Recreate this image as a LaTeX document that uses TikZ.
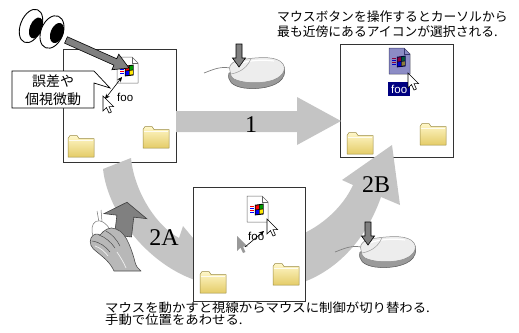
\documentclass[tikz,border=0pt]{standalone}
\usepackage{fontspec}
\setmainfont{Liberation Serif}
\newfontfamily\jpfont{Noto Sans CJK JP}
\newfontfamily\jpwide{Noto Sans CJK JP}[FakeStretch=1.07]
\newfontfamily\uifont{Liberation Sans}
\usetikzlibrary{arrows.meta}

\definecolor{band}{HTML}{C4C4C4}
\definecolor{blockgray}{HTML}{808080}
\definecolor{folderlight}{HTML}{FFF7C8}
\definecolor{folderdark}{HTML}{E4CC68}
\definecolor{folderline}{HTML}{9A8A40}
\definecolor{selnavy}{HTML}{000080}
\definecolor{mousetop}{HTML}{EDEDED}
\definecolor{mouseside}{HTML}{9A9A9A}

\tikzset{
  panel/.style={draw=black!80, line width=0.8pt, fill=white, inner sep=0pt, anchor=north west},
  blockarrow/.style={fill=blockgray, draw=black, line width=0.6pt, line join=miter},
  bandfill/.style={fill=band},
  jptext/.style={font=\jpfont\fontsize{12.8}{15}\selectfont, inner sep=0pt, anchor=base west},
  foolabel/.style={font=\uifont\fontsize{11.5}{12}\selectfont, inner sep=0pt, anchor=base west},
  steplabel/.style={font=\fontsize{24}{24}\selectfont, inner sep=0pt, anchor=base},
  aim/.style={line width=0.6pt, -{Stealth[length=5pt,width=4.5pt]}},
  twoway/.style={line width=0.6pt, {Stealth[length=5pt,width=4.5pt]}-{Stealth[length=5pt,width=4.5pt]}},
  % thick outlined arrow: length, shaft width, head width, head length
  pics/blockarr/.style n args={4}{code={
    \path[blockarrow] (0,{-#2/2}) -- ({#1-#4},{-#2/2}) -- ({#1-#4},{-#3/2}) -- (#1,0)
      -- ({#1-#4},{#3/2}) -- ({#1-#4},{#2/2}) -- (0,{#2/2}) -- cycle;
  }},
  % document icon with the windows flag
  pics/doc/.style={code={
    \fill[white] (0,0) -- (15,0) -- (21,6) -- (21,26) -- (0,26) -- cycle;
    \draw[black!60, line width=0.5pt, line join=round] (0,0) -- (15,0) -- (21,6) -- (21,26) -- (0,26) -- cycle;
    \draw[black!60, line width=0.5pt] (15,0) -- (15,6) -- (21,6);
    \fill[black] (7.8,8.8) -- (16.6,7.6) -- (16.6,18.4) -- (7.8,19.4) -- cycle;
    \fill[red] (8.7,9.7) -- (11.9,9.2) -- (11.9,13.1) -- (8.7,13.6) -- cycle;
    \fill[green!60!black] (12.7,9.1) -- (15.8,8.6) -- (15.8,12.5) -- (12.7,13.0) -- cycle;
    \fill[blue] (8.7,14.4) -- (11.9,13.9) -- (11.9,17.9) -- (8.7,18.4) -- cycle;
    \fill[yellow!90!orange] (12.7,13.8) -- (15.8,13.3) -- (15.8,17.3) -- (12.7,17.8) -- cycle;
    \draw[red, line width=0.8pt] (3,10.8) -- (7.3,10.8) (3,14.6) -- (7.3,14.6);
    \draw[blue, line width=0.8pt] (3,12.7) -- (7.3,12.7) (3,16.5) -- (7.3,16.5);
  }},
  % yellow folder
  pics/folder/.style={code={
    \shadedraw[top color=folderlight, bottom color=folderdark, draw=folderline, line width=0.5pt, line join=round]
      (0,3.5) -- (2,0.5) -- (9,0.5) -- (11,3.5) -- (26,3.5) -- (26,22) -- (0,22) -- cycle;
    \draw[white, line width=0.6pt, opacity=0.8] (0.8,5) -- (25.2,5);
  }},
  pics/cursor/.style={code={
    \draw[fill=white, line width=0.6pt, line join=miter]
      (0,0) -- (0,15) -- (3.5,11.6) -- (6,17) -- (8.4,16) -- (6,10.6) -- (10.6,10.6) -- cycle;
  }},
  pics/ghostcursor/.style={code={
    \fill[black!40]
      (0,0) -- (0,15) -- (3.5,11.6) -- (6,17) -- (8.4,16) -- (6,10.6) -- (10.6,10.6) -- cycle;
  }},
  % computer mouse seen from above (y grows downward), cable to the left
  pics/mousebody/.style={code={
    \draw[black!50, line width=0.7pt] (-52,2) .. controls (-44,-1) and (-36,-5) .. (-26,-3);
    % lower side of the shell
    \filldraw[fill=mouseside, draw=black!65, line width=0.5pt, line join=round]
      (-27,2) .. controls (-29,10) and (-24,15) .. (-12,17)
      .. controls (2,19) and (20,16) .. (26,8)
      .. controls (30,3) and (29,-4) .. (27,-6) -- cycle;
    % top face
    \filldraw[fill=mousetop, draw=black!45, line width=0.5pt, line join=round]
      (-26,0) .. controls (-28,-7) and (-22,-11) .. (-10,-12)
      .. controls (4,-14) and (22,-15) .. (27,-7)
      .. controls (31,-1) and (26,7) .. (14,10)
      .. controls (2,13) and (-14,12) .. (-22,8)
      .. controls (-25,6) and (-26,3) .. (-26,0) -- cycle;
    \draw[white, line width=1.2pt] (-20,-6) .. controls (-12,-10) and (5,-12) .. (18,-10);
    \draw[black!40, line width=0.5pt] (-5,-12.5) .. controls (-8,-5) and (-14,1) .. (-25,3);
  }},
}

\begin{document}
\begin{tikzpicture}[x=1pt,y=-1pt]
\useasboundingbox (0,0) rectangle (519,332);

% the two outer panels
\node[panel, minimum width=113pt, minimum height=113pt] (leftpanel) at (63,49) {};
\node[panel, minimum width=113pt, minimum height=113pt] (rightpanel) at (340,44) {};

% step 1: straight arrow
\fill[bandfill] (176,111) -- (297,111) -- (297,97) -- (341,121) -- (297,145) -- (297,132) -- (176,132) -- cycle;

% step 2A: curved band down into the middle panel
\fill[bandfill] (103,169) .. controls (108,215) and (150,266) .. (198,281)
  -- (201,292) -- (218,268) -- (183,226) -- (179,238)
  .. controls (155,225) and (134,190) .. (131,158) -- cycle;

% step 2B: curved arrow up to the right panel
\fill[bandfill] (298,236) .. controls (322,226) and (343,207) .. (353,185)
  -- (342,180) -- (392,145) -- (400,205) -- (381,197)
  .. controls (366,240) and (336,272) .. (298,284) -- cycle;

% middle panel
\node[panel, minimum width=112pt, minimum height=114pt] (midpanel) at (193,187) {};

% ---- left panel contents
\pic at (117,57) {doc};
\pic at (68,135) {folder};
\pic at (143,126) {folder};
\pic at (103,96) {cursor};
\node[foolabel] (fooleft) at (117,101) {foo};
\coordinate (errIcon) at (122,77);
\coordinate (errCursor) at (105,99);
\draw[twoway] (errIcon) -- (errCursor);

% ---- right panel contents
\pic at (389,48) {doc};
\fill[selnavy, opacity=0.45] (389,48) -- (404,48) -- (410,54) -- (410,74) -- (389,74) -- cycle;
\node[fill=selnavy, text=white, font=\uifont\fontsize{11.5}{12}\selectfont, inner sep=1pt, minimum width=22pt, minimum height=14pt, anchor=north west] (fooright) at (388,82) {foo};
\pic at (347,132) {folder};
\pic at (420,123) {folder};
\pic at (408,73) {cursor};

% ---- middle panel contents
\pic at (247,196) {doc};
\pic at (200,271) {folder};
\pic at (273,263) {folder};
\node[foolabel] (foomid) at (248,240) {foo};
\pic at (237,236) {ghostcursor};
\coordinate (ghostTail) at (245,247);
\coordinate (fooHead) at (264,231);
\draw[aim] (ghostTail) -- (fooHead);
\pic at (267,219) {cursor};

% ---- eyes and gaze arrow
\draw[fill=white, line width=0.9pt, rotate around={-22:(31,26)}] (31,26) ellipse [x radius=10.5, y radius=17.5];
\fill[rotate around={-22:(36,28)}] (36,28) ellipse [x radius=6.2, y radius=11];
\draw[fill=white, line width=0.9pt, rotate around={-22:(52,32)}] (52,32) ellipse [x radius=11, y radius=17];
\fill[rotate around={-22:(57,33)}] (57,33) ellipse [x radius=6.4, y radius=10.5];
\coordinate (gazeTail) at (66,40);
\pic[rotate=-24] at (gazeTail) {blockarr={69}{7}{17}{15}};

% ---- error callout
\draw[fill=white, line width=0.7pt, line join=miter] (12,71) -- (94,71) -- (110,88) -- (94,83) -- (94,108) -- (12,108) -- cycle;
\node[font=\jpfont\fontsize{14}{18}\selectfont, inner sep=0pt, anchor=base] (note1) at (53,86.5) {誤差や};
\node[font=\jpfont\fontsize{14}{18}\selectfont, inner sep=0pt, anchor=base] (note2) at (53,104.5) {個視微動};

% ---- mice with press arrows
\pic at (256,71) {mousebody};
\pic[rotate=-90] at (239,44) {blockarr={23}{6}{13}{9}};
\pic at (387,250) {mousebody};
\pic[rotate=-90] at (368,222) {blockarr={23}{6}{13}{9}};

% ---- hand moving the mouse
\pic[rotate=83.3, blockarrow/.style={fill=blockgray, draw=black!75, line width=0.6pt}] at (123,236) {blockarr={34}{17}{43}{14}};
\draw[black!55, line width=0.5pt] (99,222) -- (97,211) (102,222) -- (101,210);
\draw[fill=white, draw=black!55, line width=0.5pt, rotate around={25:(102,234)}] (102,234) ellipse [x radius=9, y radius=14];
\draw[fill=black!28, draw=black!70, line width=0.6pt, line join=round]
  (114,271) .. controls (110,262) and (103,257) .. (97,252)
  .. controls (91,248) and (89,243) .. (91,238)
  .. controls (93,234) and (97,233) .. (100,235)
  .. controls (104,230) and (110,226) .. (116,229)
  .. controls (122,231) and (126,237) .. (129,244)
  .. controls (132,251) and (134,258) .. (135,262)
  .. controls (136,266) and (138,269) .. (141,271) -- cycle;
\draw[black!70, line width=0.5pt]
  (92,241) .. controls (100,242) and (106,247) .. (110,252)
  (99,235) .. controls (105,237) and (111,242) .. (115,248)
  (106,231) .. controls (112,234) and (117,240) .. (120,246);
\draw[white, line width=0.7pt, opacity=0.8]
  (95,246) .. controls (101,248) and (105,252) .. (108,256)
  (117,252) .. controls (121,258) and (124,263) .. (126,268);

% ---- step labels
\node[steplabel] (lab1) at (251,132) {1};
\node[steplabel] (lab2a) at (164,245) {2A};
\node[steplabel] (lab2b) at (376,192) {2B};

% ---- captions
\node[jptext] (cap1a) at (277,21.5) {マウスボタンを操作するとカーソルから};
\node[jptext] (cap1b) at (277,36.5) {最も近傍にあるアイコンが選択される.};
\node[jptext, font=\jpwide\fontsize{12.5}{15}\selectfont] (cap2a) at (105,312.5) {マウスを動かすと視線からマウスに制御が切り替わる.};
\node[jptext, font=\jpwide\fontsize{12.5}{15}\selectfont] (cap2b) at (105,324.5) {手動で位置をあわせる.};
\end{tikzpicture}
\end{document}
